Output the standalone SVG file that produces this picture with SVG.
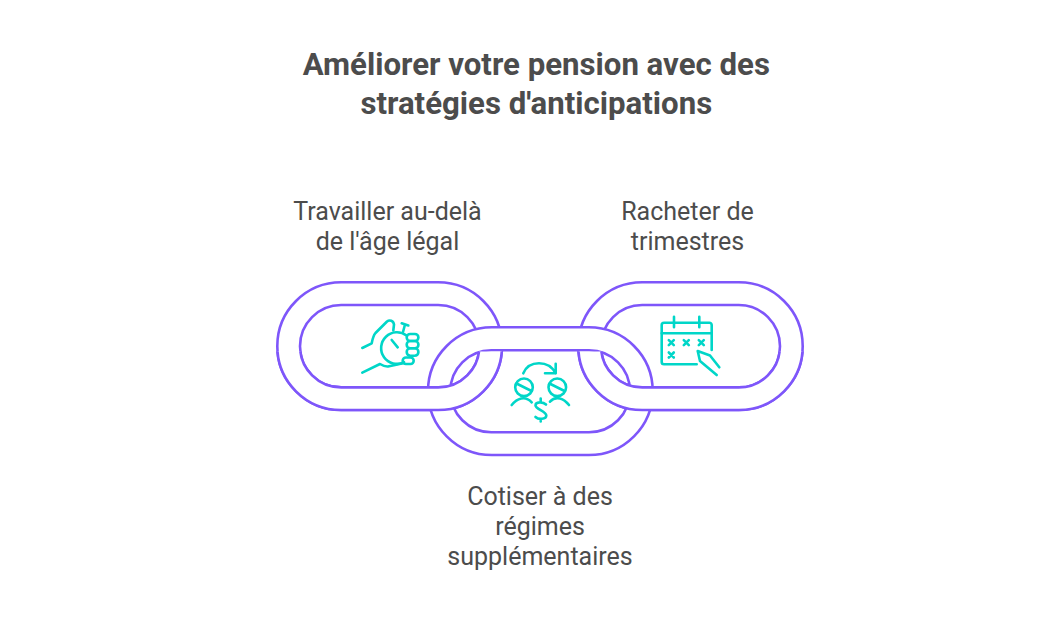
<svg xmlns="http://www.w3.org/2000/svg" width="1050" height="633" viewBox="0 0 1050 633">
  <style>
    .t{font-family:Roboto,"Liberation Sans",sans-serif;fill:#4c4c4c;text-anchor:middle}
    .h{font-size:31.2px;font-weight:700}
    .l{font-size:25px;font-weight:400}
    .band{fill:#fff;fill-rule:evenodd;stroke:#7e56fa;stroke-width:2.6}
    .ic{fill:none;stroke:#00d6c8;stroke-width:2.6;stroke-linecap:round;stroke-linejoin:round}
  </style>
  <defs>
    <path id="linkL" d="M341.150 282.300H438.150A10 10 0 0 1 438.150 410H341.150A10 10 0 0 1 341.150 282.300ZM341.200 305A10 10 0 0 0 341.200 387.400H438.200A10 10 0 0 0 438.200 305Z"/>
    <path id="linkR" d="M642.150 282.300H738.850A10 10 0 0 1 738.850 410H642.150A10 10 0 0 1 642.150 282.300ZM642.200 305A10 10 0 0 0 642.200 387.400H738.800A10 10 0 0 0 738.800 305Z"/>
    <clipPath id="low"><rect x="270" y="351.6" width="540" height="70"/></clipPath>
  </defs>
  <rect width="1050" height="633" fill="#fff"/>
  <g id="title">
    <text class="t h" x="536.300" y="74.500">Améliorer votre pension avec des</text>
    <text class="t h" x="536.300" y="114">stratégies d'anticipations</text>
  </g>
  <g id="connectors">
    <use href="#linkL" class="band"/>
    <use href="#linkR" class="band"/>
    <path class="band" d="M491.850 327.300H588.850A10 10 0 0 1 588.850 455H491.850A10 10 0 0 1 491.850 327.300ZM491.300 350.300A10 10 0 0 0 491.300 432.300H589A10 10 0 0 0 589 350.300Z"/>
    <g clip-path="url(#low)">
      <use href="#linkL" class="band"/>
      <use href="#linkR" class="band"/>
    </g>
  </g>
  <g id="node-travailler">
    <text class="t l" x="387.500" y="220.400">Travailler au-delà</text>
    <text class="t l" x="387.500" y="250.400">de l'âge légal</text>
    <g class="ic">
      <path d="M362.300 348L371.700 343.300C372.500 339 373 336 375.500 333L387 321.500C389.500 319.500 393.500 320.500 394 324.500L393.300 330.500"/>
      <path d="M362.300 372.700L380 364C382.500 365.500 385 366.800 388 366.500L403 363.300"/>
      <path d="M404 362.200A15.800 15.800 0 1 1 406.500 335.500"/>
      <path d="M391.700 340L397.700 347.300"/>
      <path d="M401.700 323.300L408.300 325.500M405 324.500L403 332"/>
      <rect x="406.700" y="334" width="11.700" height="7" rx="3.500"/>
      <rect x="406.700" y="341" width="11.700" height="7.300" rx="3.600"/>
      <rect x="406.700" y="348.300" width="11.700" height="7.500" rx="3.700"/>
      <rect x="402.700" y="357.500" width="11" height="6.500" rx="3.200"/>
    </g>
  </g>
  <g id="node-racheter">
    <text class="t l" x="687.500" y="220.400">Racheter de</text>
    <text class="t l" x="687.500" y="250.400">trimestres</text>
    <g class="ic">
      <path d="M711.700 350V325A2.300 2.300 0 0 0 709.400 322.700H664A2.300 2.300 0 0 0 661.700 325V362A2.300 2.300 0 0 0 664 364.300H696.700"/>
      <path d="M661.700 333.300H711.700M674 316.700V327.300M699.300 316.700V327.300"/>
      <path d="M668.800 340.200L673.800 345.200M673.800 340.200L668.800 345.200M683.800 340.200L688.800 345.200M688.800 340.200L683.800 345.200M698.800 340.200L703.800 345.200M703.800 340.200L698.800 345.200M668.800 352.500L673.800 357.500M673.800 352.500L668.800 357.500"/>
      <path d="M719.300 367.300L710 355.500L697.700 351L700 361L716.700 375"/>
    </g>
  </g>
  <g id="node-cotiser">
    <text class="t l" x="540" y="505.400">Cotiser à des</text>
    <text class="t l" x="540" y="535.400">régimes</text>
    <text class="t l" x="540" y="565.400">supplémentaires</text>
    <g class="ic">
      <path d="M523.300 373.300C526 367 532 363.300 539 363.300C546 363.300 552 366.500 555.700 373.300M545 373.300H555.700V363.800"/>
      <circle cx="524" cy="387.300" r="8.800"/>
      <circle cx="557.300" cy="387.300" r="8.800"/>
      <path d="M516.500 383.500L531.500 391M549.500 383.500L564.500 391"/>
      <path d="M511.700 405C517 398.500 525 395 531.700 402.300M550 401.700C556 395 564 398.500 569 405"/>
      <path d="M546 404.500C543 401.500 535.500 401.500 535.500 405.500C535.500 409 546.300 411.500 546.300 415.500C546.300 419.500 538.500 419.800 535.500 417M540.700 398.500V401.500M540.700 420V421.500"/>
    </g>
  </g>
</svg>
